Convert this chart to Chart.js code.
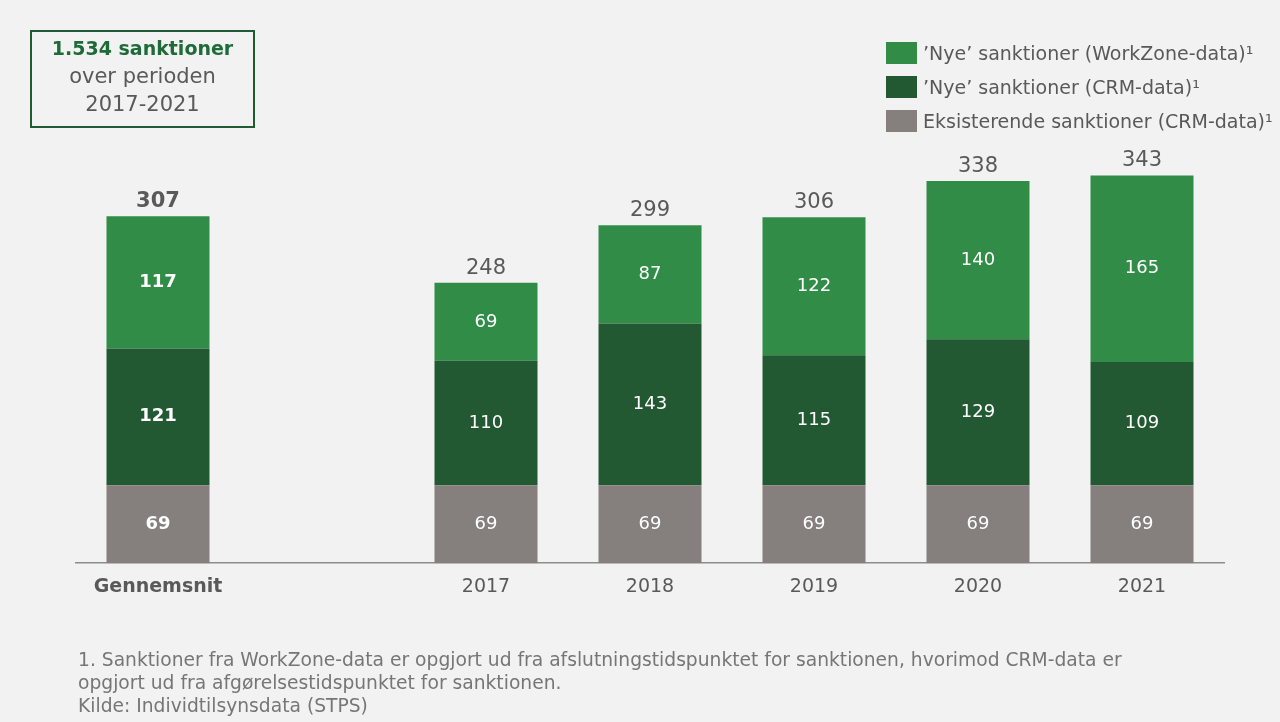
<!DOCTYPE html>
<html lang="da">
<head>
<meta charset="utf-8">
<title>Sanktioner 2017-2021</title>
<script src="https://cdn.jsdelivr.net/npm/chart.js@4.4.1/dist/chart.umd.min.js"></script>
<style>
  html, body { margin: 0; padding: 0; background: #f2f2f2; }
  body { width: 1280px; height: 722px; position: relative; overflow: hidden;
         font-family: "DejaVu Sans", sans-serif; color: #595959; }
  #wrap { position: absolute; left: 0; top: 0; width: 1280px; height: 722px; }
  .box { position: absolute; left: 30px; top: 30px; width: 221px; height: 92px;
         border: 2px solid #1f5c33; text-align: center; font-size: 21px; line-height: 28px;
         padding-top: 2px; box-sizing: content-box; }
  .box b { color: #1e6b38; font-size: 19px; }
  .legend { position: absolute; left: 886px; top: 42px; font-size: 19px; }
  .legend div { height: 34px; display: flex; align-items: flex-start; }
  .legend span.sw { width: 31px; height: 22px; margin-right: 6px; flex: none; }
  .legend span.tx { line-height: 22px; white-space: nowrap; }
  .note { position: absolute; left: 78px; top: 648px; font-size: 18.7px; line-height: 23px; color: #767676; white-space: nowrap; }
</style>
</head>
<body>
<div id="wrap"><canvas id="c" width="1280" height="722"></canvas></div>
<div class="box"><b>1.534 sanktioner</b><br>over perioden<br>2017-2021</div>
<div class="legend" id="legend"></div>
<div class="note">1. Sanktioner fra WorkZone-data er opgjort ud fra afslutningstidspunktet for sanktionen, hvorimod CRM-data er<br>opgjort ud fra afgørelsestidspunktet for sanktionen.<br>Kilde: Individtilsynsdata (STPS)</div>
<script>
// Categories (the empty string is the spacer column between the average and the years)
const categories = ["Gennemsnit", "", "2017", "2018", "2019", "2020", "2021"];

// Series values per category
const eksisterendeCRM = [69, null, 69, 69, 69, 69, 69];
const nyeCRM          = [121, null, 110, 143, 115, 129, 109];
const nyeWorkZone     = [117, null, 69, 87, 122, 140, 165];

// Totals shown above each bar
const totals = [307, null, 248, 299, 306, 338, 343];

const seriesNames = [
  "’Nye’ sanktioner (WorkZone-data)¹",
  "’Nye’ sanktioner (CRM-data)¹",
  "Eksisterende sanktioner (CRM-data)¹"
];

const colors = { workzone: "#318c48", crm: "#225932", eksist: "#857f7d" };

const FONT = '"DejaVu Sans", sans-serif';

// HTML legend, top series first
const legendEl = document.getElementById("legend");
[[seriesNames[0], colors.workzone], [seriesNames[1], colors.crm], [seriesNames[2], colors.eksist]].forEach(([t, c]) => {
  const row = document.createElement("div");
  row.innerHTML = '<span class="sw" style="background:' + c + '"></span><span class="tx">' + t + '</span>';
  legendEl.appendChild(row);
});

// Draws segment values inside the bars and totals on top
const valueLabels = {
  id: "valueLabels",
  afterDatasetsDraw(chart) {
    const ctx = chart.ctx;
    ctx.save();
    ctx.textAlign = "center";
    chart.data.datasets.forEach((ds, di) => {
      const meta = chart.getDatasetMeta(di);
      meta.data.forEach((bar, i) => {
        const v = ds.data[i];
        if (v == null) return;
        const bold = i === 0;
        ctx.fillStyle = "#ffffff";
        ctx.font = (bold ? "bold " : "") + "18px " + FONT;
        ctx.textBaseline = "middle";
        ctx.fillText(String(v), bar.x, (bar.y + bar.base) / 2);
      });
    });
    const topMeta = chart.getDatasetMeta(chart.data.datasets.length - 1);
    topMeta.data.forEach((bar, i) => {
      if (totals[i] == null) return;
      ctx.fillStyle = "#595959";
      ctx.font = (i === 0 ? "bold " : "") + "21px " + FONT;
      ctx.textBaseline = "bottom";
      ctx.fillText(String(totals[i]), bar.x, bar.y - 4);
    });
    ctx.restore();
  }
};

new Chart(document.getElementById("c"), {
  type: "bar",
  data: {
    labels: categories,
    datasets: [
      { label: seriesNames[2], data: eksisterendeCRM, backgroundColor: colors.eksist },
      { label: seriesNames[1], data: nyeCRM, backgroundColor: colors.crm },
      { label: seriesNames[0], data: nyeWorkZone, backgroundColor: colors.workzone }
    ]
  },
  options: {
    responsive: false,
    animation: false,
    events: [],
    layout: { padding: { left: 76, right: 56, top: 111, bottom: 112 } },
    datasets: { bar: { barPercentage: 0.628, categoryPercentage: 1, borderWidth: 0 } },
    plugins: { legend: { display: false }, tooltip: { enabled: false } },
    scales: {
      x: {
        stacked: true,
        grid: { display: false, drawTicks: false },
        border: { display: true, color: "#8c8c8c", width: 1.5 },
        ticks: {
          padding: 12,
          color: "#595959",
          font: (c) => ({ family: FONT, size: 19, weight: c.index === 0 ? "bold" : "normal" })
        }
      },
      y: { stacked: true, display: false, min: 0, max: 400 }
    }
  },
  plugins: [valueLabels]
});
</script>
</body>
</html>
